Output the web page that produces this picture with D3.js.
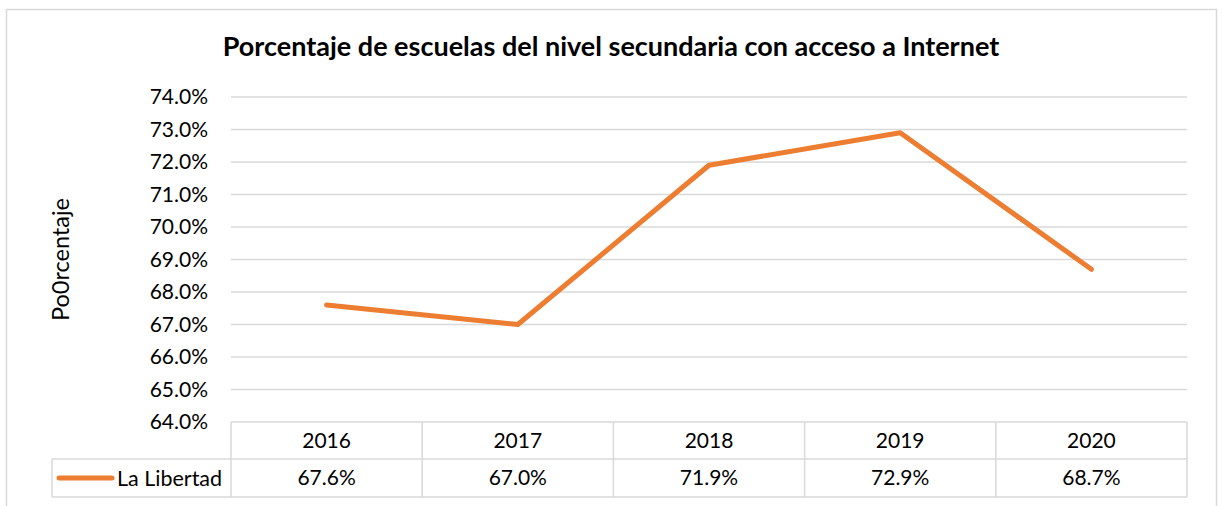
<!DOCTYPE html>
<html lang="es">
<head>
<meta charset="UTF-8">
<title>Porcentaje de escuelas del nivel secundaria con acceso a Internet</title>
<script src="https://d3js.org/d3.v7.min.js"></script>
<style>
  body { margin: 0; background: #fff; }
  svg text { font-family: Lato, "Open Sans", sans-serif; fill: #000; }
</style>
</head>
<body>
<div id="chart"></div>
<script>
// data
const years = ["2016", "2017", "2018", "2019", "2020"];
const values = [67.6, 67.0, 71.9, 72.9, 68.7];
const seriesName = "La Libertad";
const yTicks = [64, 65, 66, 67, 68, 69, 70, 71, 72, 73, 74];

const W = 1223, H = 506;
const orange = "#ED7D31", grid = "#D9D9D9";

const svg = d3.select("#chart").append("svg")
    .attr("width", W)
    .attr("height", H);

// outer frame
svg.append("rect")
    .attr("x", 6.5).attr("y", 9.5)
    .attr("width", 1210).attr("height", 510)
    .attr("fill", "none")
    .attr("stroke", grid)
    .attr("stroke-width", 1.5);

// title
svg.append("text")
    .attr("x", 611).attr("y", 56)
    .attr("text-anchor", "middle")
    .attr("font-size", "27px")
    .attr("font-weight", "bold")
    .text("Porcentaje de escuelas del nivel secundaria con acceso a Internet");

const plotLeft = 231, plotRight = 1187, plotTop = 97, plotBottom = 422;

const x = d3.scaleBand().domain(years).range([plotLeft, plotRight]);
const y = d3.scaleLinear().domain([64, 74]).range([plotBottom, plotTop]);

// gridlines
svg.append("g")
    .selectAll("line")
    .data(yTicks.filter(d => d > 64))
    .enter()
    .append("line")
    .attr("x1", plotLeft).attr("x2", plotRight)
    .attr("y1", d => y(d)).attr("y2", d => y(d))
    .attr("stroke", grid)
    .attr("stroke-width", 1.5);

// y labels
svg.append("g")
    .selectAll("text")
    .data(yTicks)
    .enter()
    .append("text")
    .attr("x", 208)
    .attr("y", d => y(d))
    .attr("dy", "0.35em")
    .attr("text-anchor", "end")
    .attr("font-size", "21px")
    .text(d => d.toFixed(1) + "%");

// y axis title
svg.append("text")
    .attr("transform", `translate(69, ${(plotTop + plotBottom) / 2}) rotate(-90)`)
    .attr("text-anchor", "middle")
    .attr("font-size", "23.5px")
    .text("Po0rcentaje");

// line
const line = d3.line()
    .x((d, i) => x(years[i]) + x.bandwidth() / 2)
    .y(d => y(d));

svg.append("path")
    .datum(values)
    .attr("d", line)
    .attr("fill", "none")
    .attr("stroke", orange)
    .attr("stroke-width", 5)
    .attr("stroke-linejoin", "round")
    .attr("stroke-linecap", "round");

// data table
const row1 = plotBottom, row2 = 459, row3 = 497, legLeft = 52;
const tbl = svg.append("g")
    .attr("stroke", grid)
    .attr("stroke-width", 1.5);

tbl.append("line").attr("x1", plotLeft).attr("x2", plotRight).attr("y1", row1).attr("y2", row1);
tbl.append("line").attr("x1", legLeft).attr("x2", plotRight).attr("y1", row2).attr("y2", row2);
tbl.append("line").attr("x1", legLeft).attr("x2", plotRight).attr("y1", row3).attr("y2", row3);
tbl.append("line").attr("x1", legLeft).attr("x2", legLeft).attr("y1", row2).attr("y2", row3);
tbl.selectAll("line.col")
    .data(years.concat(["end"]))
    .enter()
    .append("line")
    .attr("class", "col")
    .attr("x1", (d, i) => plotLeft + i * x.step())
    .attr("x2", (d, i) => plotLeft + i * x.step())
    .attr("y1", row1).attr("y2", row3);

svg.append("g")
    .selectAll("text")
    .data(years)
    .enter()
    .append("text")
    .attr("x", d => x(d) + x.bandwidth() / 2)
    .attr("y", (row1 + row2) / 2)
    .attr("dy", "0.35em")
    .attr("text-anchor", "middle")
    .attr("font-size", "21px")
    .text(d => d);

svg.append("g")
    .selectAll("text")
    .data(values)
    .enter()
    .append("text")
    .attr("x", (d, i) => x(years[i]) + x.bandwidth() / 2)
    .attr("y", (row2 + row3) / 2)
    .attr("dy", "0.35em")
    .attr("text-anchor", "middle")
    .attr("font-size", "21px")
    .text(d => d.toFixed(1) + "%");

// legend key
svg.append("line")
    .attr("x1", 59).attr("x2", 112)
    .attr("y1", (row2 + row3) / 2).attr("y2", (row2 + row3) / 2)
    .attr("stroke", orange)
    .attr("stroke-width", 5)
    .attr("stroke-linecap", "round");

svg.append("text")
    .attr("x", 117)
    .attr("y", (row2 + row3) / 2)
    .attr("dy", "0.35em")
    .attr("font-size", "21.5px")
    .text(seriesName);
</script>
</body>
</html>
